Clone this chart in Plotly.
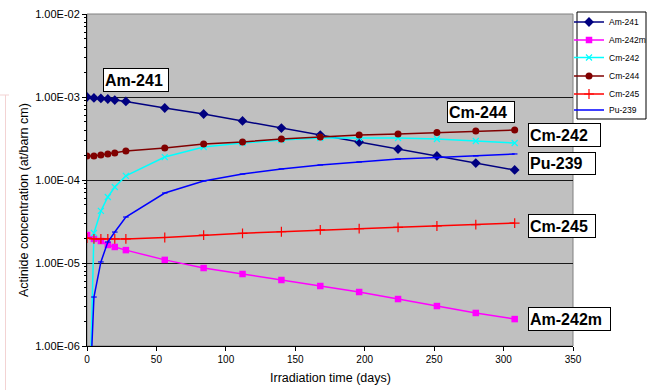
import plotly.graph_objects as go

# ---- data ----
days = [0, 5, 10, 15, 20, 28, 56, 84, 112, 140, 168, 196, 224, 252, 280, 308]

am241 = [1.0e-3, 9.73e-4, 9.6e-4, 9.46e-4, 9.2e-4, 8.83e-4, 7.37e-4, 6.24e-4,
         5.14e-4, 4.23e-4, 3.48e-4, 2.87e-4, 2.36e-4, 1.95e-4, 1.60e-4, 1.32e-4]
am242m = [2.17e-5, 1.95e-5, 1.84e-5, 1.65e-5, 1.56e-5, 1.43e-5, 1.09e-5, 8.7e-6,
          7.37e-6, 6.24e-6, 5.28e-6, 4.47e-6, 3.68e-6, 3.03e-6, 2.5e-6, 2.11e-6]
cm242 = [1.0e-8, 2.30e-5, 4.24e-5, 6.24e-5, 8.24e-5, 1.12e-4, 1.89e-4, 2.50e-4,
         2.79e-4, 3.03e-4, 3.21e-4, 3.21e-4, 3.21e-4, 3.12e-4, 2.95e-4, 2.79e-4]
cm244 = [1.95e-4, 1.95e-4, 2.0e-4, 2.06e-4, 2.11e-4, 2.23e-4, 2.43e-4, 2.72e-4,
         2.87e-4, 3.12e-4, 3.30e-4, 3.48e-4, 3.58e-4, 3.73e-4, 3.89e-4, 4.0e-4]
cm245 = [2.0e-5, 1.95e-5, 1.95e-5, 1.95e-5, 1.95e-5, 1.95e-5, 2.03e-5, 2.17e-5,
         2.28e-5, 2.38e-5, 2.5e-5, 2.59e-5, 2.69e-5, 2.79e-5, 2.9e-5, 3.03e-5]
pu239 = [4.0e-8, 3.89e-6, 1.03e-5, 1.79e-5, 2.36e-5, 3.58e-5, 6.97e-5, 9.72e-5,
         1.18e-4, 1.36e-4, 1.52e-4, 1.65e-4, 1.79e-4, 1.87e-4, 1.95e-4, 2.06e-4]

series_names = ["Am-241", "Am-242m", "Cm-242", "Cm-244", "Cm-245", "Pu-239"]
y_tickvals = [1e-6, 1e-5, 1e-4, 1e-3, 1e-2]
y_ticktext = ["1.00E-06", "1.00E-05", "1.00E-04", "1.00E-03", "1.00E-02"]
x_tickvals = [0, 50, 100, 150, 200, 250, 300, 350]

FONT = "Arial, 'Liberation Sans', sans-serif"

# ---- geometry helpers (pixel -> paper) ----
W, H = 648, 390
L, R, T, B = 87, 573, 14, 346
def px(x):
    return (x - L) / (R - L)
def py(y):
    return (B - y) / (B - T)

styles = {
    "Am-241": dict(color="#000080", symbol="diamond", size=7.5),
    "Am-242m": dict(color="#FF00FF", symbol="square", size=6.5),
    "Cm-242": dict(color="#00FFFF", symbol="x-thin-open", size=6),
    "Cm-244": dict(color="#800000", symbol="circle", size=7),
    "Cm-245": dict(color="#FF0000", symbol="cross-thin-open", size=7),
    "Pu-239": dict(color="#0000FF", symbol="line-ew-open", size=4),
}
values = [am241, am242m, cm242, cm244, cm245, pu239]
legend_ids = ["legend", "legend2", "legend3", "legend4", "legend5", "legend6"]
legend_rows = [22, 40, 57.5, 76, 94, 110]   # pixel row of each legend entry

fig = go.Figure()
for name, vals, lg in zip(series_names, values, legend_ids):
    st = styles[name]
    open_sym = st["symbol"].endswith("-open")
    mk = dict(symbol=st["symbol"], size=st["size"], color=st["color"],
              line=dict(color=st["color"], width=1.2 if open_sym else 0))
    if name == "Pu-239":
        # legend shows the line only; small dash markers drawn by a twin trace
        fig.add_trace(go.Scatter(
            x=days, y=vals, name=name, mode="lines", legend=lg,
            line=dict(color=st["color"], width=1.5)))
        fig.add_trace(go.Scatter(
            x=days, y=vals, name=name, mode="markers", marker=mk,
            showlegend=False, hoverinfo="skip"))
    else:
        fig.add_trace(go.Scatter(
            x=days, y=vals, name=name, mode="lines+markers", legend=lg,
            line=dict(color=st["color"], width=1.5), marker=mk))

# label boxes (pixel boxes: left, top, right, bottom)
labels = [
    ("Am-241", 102, 68, 170, 92),
    ("Cm-244", 446, 101, 516, 123),
    ("Cm-242", 527, 123, 602, 147),
    ("Pu-239", 527, 152, 597, 175),
    ("Cm-245", 527, 214, 597, 238),
    ("Am-242m", 527, 307, 612, 331),
]
annotations = []
for text, x0, y0, x1, y1 in labels:
    annotations.append(dict(
        text="<b>%s</b>" % text, xref="paper", yref="paper",
        x=px((x0 + x1) / 2), y=py((y0 + y1) / 2),
        xanchor="center", yanchor="middle", showarrow=False,
        width=(x1 - x0) - 6, height=(y1 - y0) - 4, align="left",
        bgcolor="white", bordercolor="black", borderwidth=1, borderpad=1,
        font=dict(family=FONT, size=16, color="black"),
    ))

# axis titles
annotations.append(dict(
    text="Actinide concentration (at/barn cm)", xref="paper", yref="paper",
    x=px(24), y=py(200), textangle=-90, showarrow=False,
    xanchor="center", yanchor="middle",
    font=dict(family=FONT, size=12.5, color="black")))
annotations.append(dict(
    text="Irradiation time (days)", xref="paper", yref="paper",
    x=px(330), y=py(378), showarrow=False,
    xanchor="center", yanchor="middle",
    font=dict(family=FONT, size=12.5, color="black")))

shapes = [
    dict(type="rect", xref="paper", yref="paper", x0=0, y0=0, x1=1, y1=1,
         line=dict(color="#808080", width=1), layer="below"),
    # legend frame
    dict(type="rect", xref="paper", yref="paper",
         x0=px(577), x1=px(646), y0=py(119), y1=py(12),
         fillcolor="white", line=dict(color="black", width=1), layer="below"),
    # faint pink page artefact on the left
    dict(type="line", xref="paper", yref="paper", x0=px(5.5), x1=px(5.5),
         y0=py(95), y1=py(392), line=dict(color="#F3D3D3", width=1)),
    dict(type="line", xref="paper", yref="paper", x0=px(0), x1=px(9),
         y0=py(95), y1=py(95), line=dict(color="#F3D3D3", width=1)),
]

minor_vals = [k * 10.0 ** e for e in range(-6, -2) for k in range(2, 10)]

layout_legends = {}
for lg, row in zip(legend_ids, legend_rows):
    layout_legends[lg] = dict(
        x=px(569), y=py(row), xanchor="left", yanchor="middle",
        bgcolor="rgba(0,0,0,0)", borderwidth=0,
        font=dict(family=FONT, size=8.5, color="black"),
        itemwidth=30, tracegroupgap=0,
    )

fig.update_layout(
    width=W, height=H,
    margin=dict(l=L, r=W - R, t=T, b=H - B, autoexpand=False),
    paper_bgcolor="white", plot_bgcolor="#C0C0C0",
    font=dict(family=FONT, color="black"),
    showlegend=True,
    annotations=annotations,
    shapes=shapes,
    xaxis=dict(
        range=[0, 350], tickmode="array", tickvals=x_tickvals,
        ticks="outside", ticklen=4, tickcolor="black",
        showgrid=False, zeroline=False,
        showline=True, linecolor="black", linewidth=1,
        tickfont=dict(family=FONT, size=10, color="black"),
    ),
    yaxis=dict(
        type="log", range=[-6, -2], tickmode="array",
        tickvals=y_tickvals, ticktext=y_ticktext,
        ticks="outside", ticklen=4, tickcolor="black",
        showgrid=True, gridcolor="#1a1a1a", gridwidth=1,
        zeroline=False, showline=True, linecolor="black", linewidth=1,
        tickfont=dict(family=FONT, size=11, color="black"),
        minor=dict(tickmode="array", tickvals=minor_vals, ticks="outside",
                   ticklen=2.5, tickcolor="black", showgrid=False),
    ),
    **layout_legends,
)

fig.write_html("out.html")
